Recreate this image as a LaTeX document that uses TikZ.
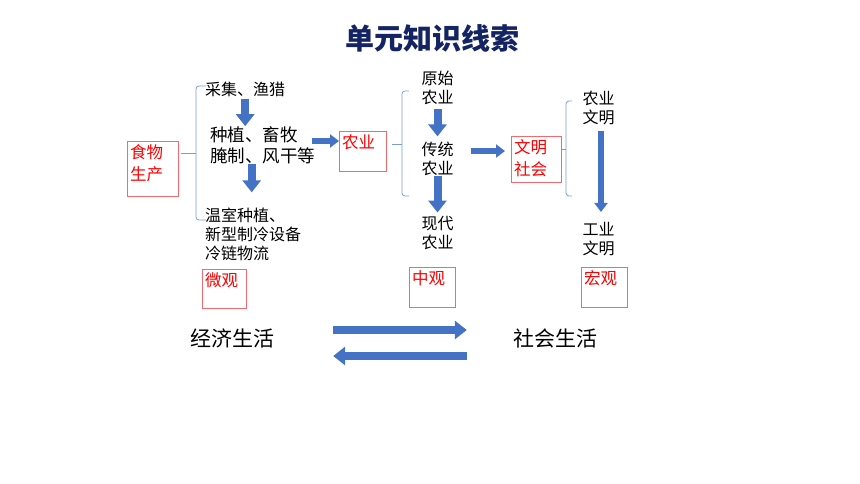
\documentclass[tikz,border=0pt]{standalone}
\usepackage{fontspec}
\setmainfont{Noto Sans CJK SC}
\usetikzlibrary{arrows.meta,calc,positioning}
\definecolor{arrowblue}{RGB}{68,114,196}
\definecolor{bracecol}{RGB}{125,155,215}
\definecolor{boxred}{RGB}{245,105,110}
\definecolor{titleblue}{RGB}{20,35,100}
\tikzstyle{txt} = [inner sep=0pt, align=left, font=\fontsize{16}{19}\selectfont]
\tikzstyle{bigtxt} = [inner sep=0pt, align=left, font=\fontsize{17.5}{21}\selectfont]
\tikzstyle{life} = [inner sep=0pt, font=\fontsize{21}{25}\selectfont]
\tikzstyle{redbox} = [rectangle, draw=boxred, line width=0.9pt, inner sep=0pt, anchor=north west]
\tikzstyle{redlabel} = [anchor=north west, text=red, inner sep=3pt, align=left, font=\fontsize{16.5}{22.5}\selectfont]
\tikzstyle{blk} = [draw=arrowblue, line width=8pt, -{Triangle[length=12pt,width=18pt]}]
\tikzstyle{blkthin} = [draw=arrowblue, line width=6pt, -{Triangle[length=9pt,width=13pt]}]
\tikzstyle{bracket} = [draw=bracecol, line width=0.8pt, rounded corners=3pt]

\begin{document}
\begin{tikzpicture}[x=1pt,y=-1pt]
    \useasboundingbox (0,0) rectangle (860,484);
    % Title
    \node[font=\fontsize{29}{33}\selectfont\bfseries, text=titleblue] (title) at (432,38) {单元知识线索};
    % Place boxes
    \node[redbox, minimum width=51pt, minimum height=55pt, label={[redlabel]north west:食物\\生产}] (food) at (127,141) {};
    \node[redbox, minimum width=44pt, minimum height=39pt, label={[redlabel]north west:微观}] (micro) at (202,269) {};
    \node[redbox, minimum width=47pt, minimum height=40pt, label={[redlabel]north west:农业}] (agri) at (339,131) {};
    \node[redbox, minimum width=46pt, minimum height=40pt, label={[redlabel]north west:中观}] (meso) at (409,267) {};
    \node[redbox, minimum width=50pt, minimum height=46pt, label={[redlabel]north west:文明\\社会}] (civ) at (511,136) {};
    \node[redbox, minimum width=46pt, minimum height=40pt, label={[redlabel]north west:宏观}] (macro) at (581,267) {};
    % Place texts
    \node[txt, anchor=west] (gather) at (205,89) {采集、渔猎};
    \node[bigtxt, anchor=west] (farm) at (210,145) {种植、畜牧\\腌制、风干等};
    \node[txt, anchor=west] (modern) at (205,234) {温室种植、\\新型制冷设备\\冷链物流};
    \node[txt, align=center] (primagri) at (437.5,87.5) {原始\\农业};
    \node[txt, align=center] (tradagri) at (437.5,158.5) {传统\\农业};
    \node[txt, align=center] (modagri) at (437.5,233.5) {现代\\农业};
    \node[txt, align=center] (agciv) at (598.5,108) {农业\\文明};
    \node[txt, align=center] (indciv) at (598.5,239) {工业\\文明};
    \node[life] (econ) at (232,338) {经济生活};
    \node[life] (social) at (555,338) {社会生活};
    % Brackets
    \draw[bracket] (206,86) -- (196,86) -- (196,220) -- (206,220);
    \draw[bracket] (196,153) -- (181,153);
    \draw[bracket] (409,91) -- (402,91) -- (402,196) -- (409,196);
    \draw[bracket] (402,144) -- (392,144);
    \draw[bracket] (572,101) -- (566,101) -- (566,196) -- (572,196);
    \draw[bracket] (566,149) -- (civ.east |- 0,149);
    % Draw arrows
    \draw[blk, shorten <=2pt] (gather.south) -- (gather.south |- farm.north);
    \draw[blk, shorten >=15pt] ([xshift=-11pt]farm.south) -- ([xshift=-11pt]farm.south |- modern.north);
    \draw[blkthin, shorten <=-3pt] ([yshift=4pt]farm.east) -- ([yshift=4pt]farm.east -| agri.west);
    \draw[blk, shorten <=4pt, shorten >=5pt] (primagri.south) -- (tradagri.north);
    \draw[blk, shorten >=4pt] (tradagri.south) -- (modagri.north);
    \draw[blkthin, shorten <=17pt, shorten >=6pt] ([yshift=7.5pt]tradagri.east) -- ([yshift=7.5pt]tradagri.east -| civ.west);
    \draw[blkthin, shorten <=6pt, shorten >=10pt] ([xshift=2.5pt]agciv.south) -- ([xshift=2.5pt]indciv.north);
    \draw[blk, shorten <=59pt, shorten >=46pt] ([yshift=8pt]econ.east) -- ([yshift=8pt]social.west);
    \draw[blk, shorten <=46pt, shorten >=59pt] ([yshift=-18pt]social.west) -- ([yshift=-18pt]econ.east);
\end{tikzpicture}
\end{document}
